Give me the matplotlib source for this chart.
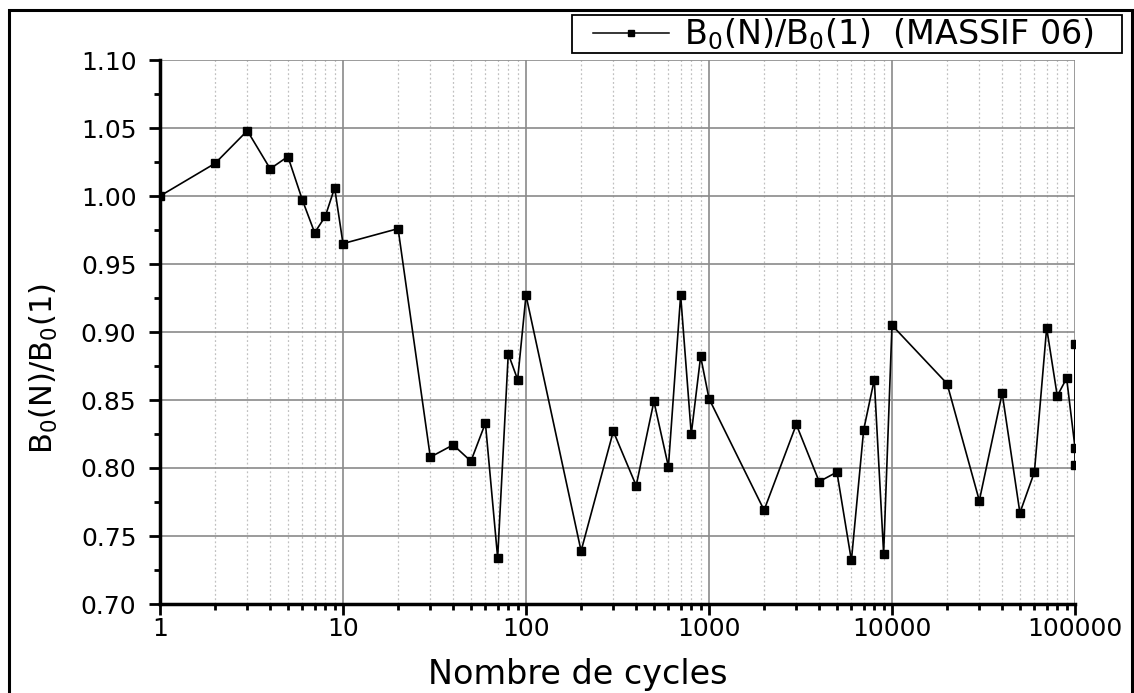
import matplotlib
matplotlib.use("Agg")
import matplotlib.pyplot as plt
from matplotlib.ticker import LogLocator, FixedLocator, FuncFormatter, MultipleLocator
from matplotlib.patches import Rectangle
from matplotlib.lines import Line2D

cycles = [1, 2, 3, 4, 5, 6, 7, 8, 9, 10, 20,
          30, 40, 50, 60, 70, 80, 90, 100,
          200, 300, 400, 500, 600, 700, 800, 900, 1000,
          2000, 3000, 4000, 5000, 6000, 7000, 8000, 9000, 10000,
          20000, 30000, 40000, 50000, 60000, 70000, 80000, 90000,
          100000, 100000, 100000]
ratio = [1.000, 1.024, 1.048, 1.020, 1.029, 0.997, 0.973, 0.985, 1.006, 0.965, 0.976,
         0.808, 0.817, 0.805, 0.833, 0.734, 0.884, 0.865, 0.927,
         0.739, 0.827, 0.787, 0.849, 0.801, 0.927, 0.825, 0.882, 0.851,
         0.769, 0.832, 0.790, 0.797, 0.732, 0.828, 0.865, 0.737, 0.905,
         0.862, 0.776, 0.855, 0.767, 0.797, 0.903, 0.853, 0.866,
         0.815, 0.891, 0.802]

series_label = r"B$_0$(N)/B$_0$(1)  (MASSIF 06)"
x_label = "Nombre de cycles"
y_label = r"B$_0$(N)/B$_0$(1)"
x_ticks = [1, 10, 100, 1000, 10000, 100000]
x_tick_labels = ["1", "10", "100", "1000", "10000", "100000"]
y_ticks = [0.70, 0.75, 0.80, 0.85, 0.90, 0.95, 1.00, 1.05, 1.10]

W, H = 1134, 693
fig = plt.figure(figsize=(W / 100, H / 100), dpi=100)
fig.patch.set_facecolor("white")

ax = fig.add_axes([160 / W, 1 - 604 / H, (1075 - 160) / W, (604 - 60) / H])
ax.set_xscale("log")
ax.set_xlim(1, 100000)
ax.set_ylim(0.70, 1.10)

ax.plot(cycles, ratio, color="black", linewidth=1.2, marker="s",
        markersize=6.3, markerfacecolor="black", markeredgecolor="black",
        zorder=5, clip_on=True)

# ticks
ax.xaxis.set_major_locator(FixedLocator(x_ticks))
ax.xaxis.set_major_formatter(FuncFormatter(
    lambda v, p: x_tick_labels[x_ticks.index(min(x_ticks, key=lambda t: abs(t - v)))]))
ax.xaxis.set_minor_locator(LogLocator(base=10, subs=range(2, 10), numticks=20))
ax.xaxis.set_minor_formatter(FuncFormatter(lambda v, p: ""))
ax.yaxis.set_major_locator(FixedLocator(y_ticks))
ax.yaxis.set_major_formatter(FuncFormatter(lambda v, p: f"{v:.2f}"))
ax.yaxis.set_minor_locator(MultipleLocator(0.025))

ax.tick_params(axis="both", which="major", direction="out", length=8, width=2,
               labelsize=18, colors="black")
ax.tick_params(axis="both", which="minor", direction="out", length=4, width=2)
ax.tick_params(axis="x", which="major", pad=1)
ax.tick_params(axis="y", which="major", pad=9)

# grids
ax.grid(True, which="major", axis="both", color="#8a8a8a", linewidth=1.2, linestyle="-")
ax.grid(True, which="minor", axis="x", color="#c0c0c0", linewidth=0.9, linestyle=(0, (1.5, 2)))
ax.set_axisbelow(True)

for side in ["top", "right"]:
    ax.spines[side].set_visible(False)
for side in ["left", "bottom"]:
    ax.spines[side].set_linewidth(2.5)
    ax.spines[side].set_color("black")

ax.set_xlabel(x_label, fontsize=24)
ax.xaxis.set_label_coords((578 - 160) / 915, (604 - 658) / 544)
ax.set_ylabel(y_label, fontsize=22)
ax.yaxis.set_label_coords((60 - 160) / 915, (604 - 369) / 544)

# legend (frame drawn separately so it can be wider than the entry)
handle = Line2D([], [], color="black", linewidth=1.1, marker="s", markersize=5,
                markerfacecolor="black")
leg = fig.legend([handle], [series_label], loc="upper left",
                 bbox_to_anchor=(591 / W, 1 - 15 / H), fontsize=24,
                 frameon=False, handlelength=2.3, handletextpad=0.45,
                 borderpad=0.05, borderaxespad=0)
fig.patches.append(Rectangle((572 / W, 1 - 53 / H), (1122 - 572) / W, 38 / H,
                             transform=fig.transFigure, facecolor="white",
                             edgecolor="black", linewidth=1.3, zorder=4))
leg.set_zorder(5)

# outer figure border
fig.patches.append(Rectangle((9 / W, -0.05), (1132 - 9) / W, 1.05 - 10 / H,
                             transform=fig.transFigure, fill=False,
                             edgecolor="black", linewidth=2.2))

fig.savefig("out.png", dpi=100, facecolor="white")
